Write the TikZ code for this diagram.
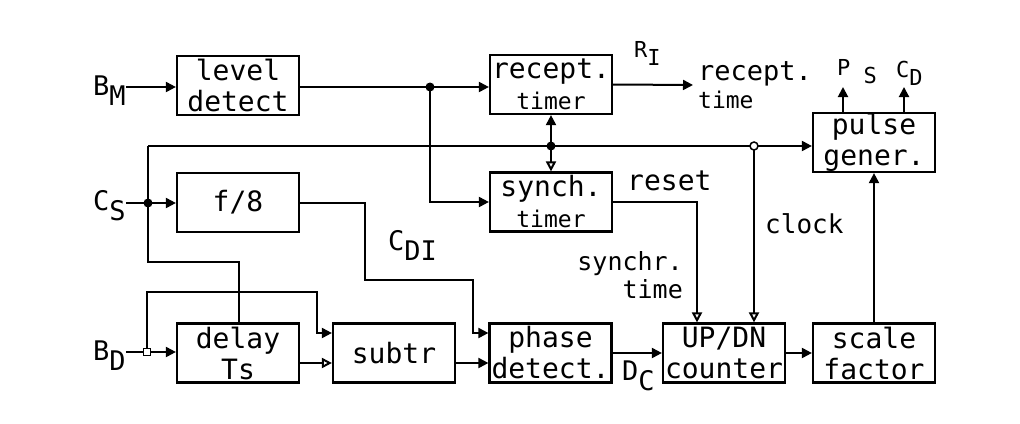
\documentclass[tikz,border=0pt]{standalone}
\usepackage{fontspec}
\setmonofont{DejaVu Sans Mono}
\usetikzlibrary{arrows.meta}
\newcommand\lowsub[1]{\raisebox{-0.38em}{#1}}
\newcommand\bigf{\ttfamily\fontsize{28}{31}\selectfont}
\newcommand\smf{\ttfamily\fontsize{23}{25}\selectfont}
\newcommand\labf{\ttfamily\fontsize{27}{30}\selectfont}
\newcommand\tinyf{\ttfamily\fontsize{22}{24}\selectfont}
\begin{document}
\begin{tikzpicture}[x=1pt,y=-1pt,
  box/.style={draw, line width=2.2pt, minimum width=122pt, minimum height=59pt, inner sep=0pt, align=center, font=\bigf},
  wire/.style={line width=2pt},
  fa/.style={wire, -{Triangle[length=10pt,width=10pt]}},
  oa/.style={wire, -{Triangle[open,length=10pt,width=10pt]}},
  lab/.style={font=\labf, inner sep=0pt},
  jdot/.style={circle, fill, inner sep=0pt, minimum size=9pt},
  jopen/.style={circle, draw, fill=white, line width=1.5pt, inner sep=0pt, minimum size=8pt},
  jsq/.style={draw, fill=white, line width=1.5pt, inner sep=0pt, minimum size=7pt}]
\useasboundingbox (0,0) rectangle (1020,423);
% boxes
\node[box] (lvl) at (238,85.5) {level\\detect};
\node[box] (rec) at (551,84.5) {recept.\\{\smf timer}};
\node[box] (syn) at (551,202) {synch.\\{\smf timer}};
\node[box] (f8)  at (238,202.5) {f/8};
\node[box] (pul) at (874,142.5) {pulse\\gener.};
\node[box] (del) at (238,353) {delay\\Ts};
\node[box] (sub) at (394,353) {subtr};
\node[box] (pha) at (550.5,353) {phase\\detect.};
\node[box] (cnt) at (724,353) {UP/DN\\counter};
\node[box] (scl) at (874,353) {scale\\factor};
% junctions
\coordinate (j1) at (430,87);
\coordinate (jtop) at (148,146);
\coordinate (jcs) at (148,203);
\coordinate (jrs) at (551,146);
\coordinate (jclk) at (754,146);
\coordinate (jbd) at (147,352);
\coordinate (rtend) at (693,85);
\coordinate (ps) at (843,87);
\coordinate (cd) at (904,87);
% labels
\node[lab, anchor=base west] (BM) at (93,95) {B\lowsub{M}};
\node[lab, anchor=base west] (CS) at (93,210) {C\lowsub{S}};
\node[lab, anchor=base west] (BD) at (93,360) {B\lowsub{D}};
\node[lab, anchor=base west] (CDI) at (388,250) {C\lowsub{DI}};
\node[lab, anchor=base west] (DC) at (622,380) {D\lowsub{C}};
\node[lab, font=\tinyf, anchor=base west] (RI) at (634,57) {R\lowsub{I}};
\node[lab, font=\tinyf, anchor=base west] (PS) at (837,75) {P \lowsub{S}};
\node[lab, font=\tinyf, anchor=base west] (CD) at (896,77) {C\lowsub{D}};
\node[lab, anchor=base west] (rt1) at (698,80) {recept.};
\node[lab, font=\smf, anchor=base west] (rt2) at (698,108) {time};
\node[lab, font=\bigf, anchor=base west] (rst) at (627,190) {reset};
\node[lab, font=\ttfamily\fontsize{26}{28}\selectfont, anchor=base west] (clk) at (765,233) {clock};
\node[lab, font=\ttfamily\fontsize{25}{28}\selectfont, anchor=base east] (st1) at (683,270) {synchr.};
\node[lab, font=\ttfamily\fontsize{25}{28}\selectfont, anchor=base east] (st2) at (683,298) {time};
% wires
\draw[fa] (BM.east |- j1) -- (lvl.west |- j1);
\draw[wire] (lvl.east |- j1) -- (j1);
\draw[fa] (j1) -- (j1 -| rec.west);
\draw[fa] (j1) |- (syn.west);
\draw[fa] (rec.east) -- (rtend);
\draw[wire] (jtop) -- (jcs) -- ++(0,59) -| ([xshift=1pt]del.north);
\draw[fa] (jtop) -- (jtop -| pul.west);
\draw[fa] (jrs) -- (jrs |- rec.south);
\draw[oa] (jrs) -- (jrs |- syn.north);
\draw[oa] (jclk) -- (jclk |- cnt.north);
\draw[wire] (CS.east |- jcs) -- (jcs);
\draw[fa] (jcs) -- (jcs -| f8.west);
\draw[fa] (f8.east) -| (365,280) -| (473,333) -- ([yshift=20pt]pha.west);
\draw[wire] (BD.east |- jbd) -- (jbd);
\draw[fa] (jbd) -- (jbd -| del.west);
\draw[fa] (jbd) |- (317,292) |- ([yshift=20pt]sub.west);
\draw[oa] ([yshift=-10pt]del.east) -- ([yshift=-10pt]sub.west);
\draw[fa] ([yshift=-10pt]sub.east) -- ([yshift=-10pt]pha.west);
\draw[fa] (pha.east) -- (cnt.west);
\draw[fa] (cnt.east) -- (scl.west);
\draw[fa] (scl.north) -- (pul.south);
\draw[oa] (syn.east) -| ([xshift=-27pt]cnt.north);
\draw[fa] (ps |- pul.north) -- (ps);
\draw[fa] (cd |- pul.north) -- (cd);
% junction marks
\node[jdot] (m1) at (j1) {};
\node[jdot] (m2) at (jcs) {};
\node[jdot] (m3) at (jrs) {};
\node[jopen] (m4) at (jclk) {};
\node[jsq] (m5) at (jbd) {};
\end{tikzpicture}
\end{document}
